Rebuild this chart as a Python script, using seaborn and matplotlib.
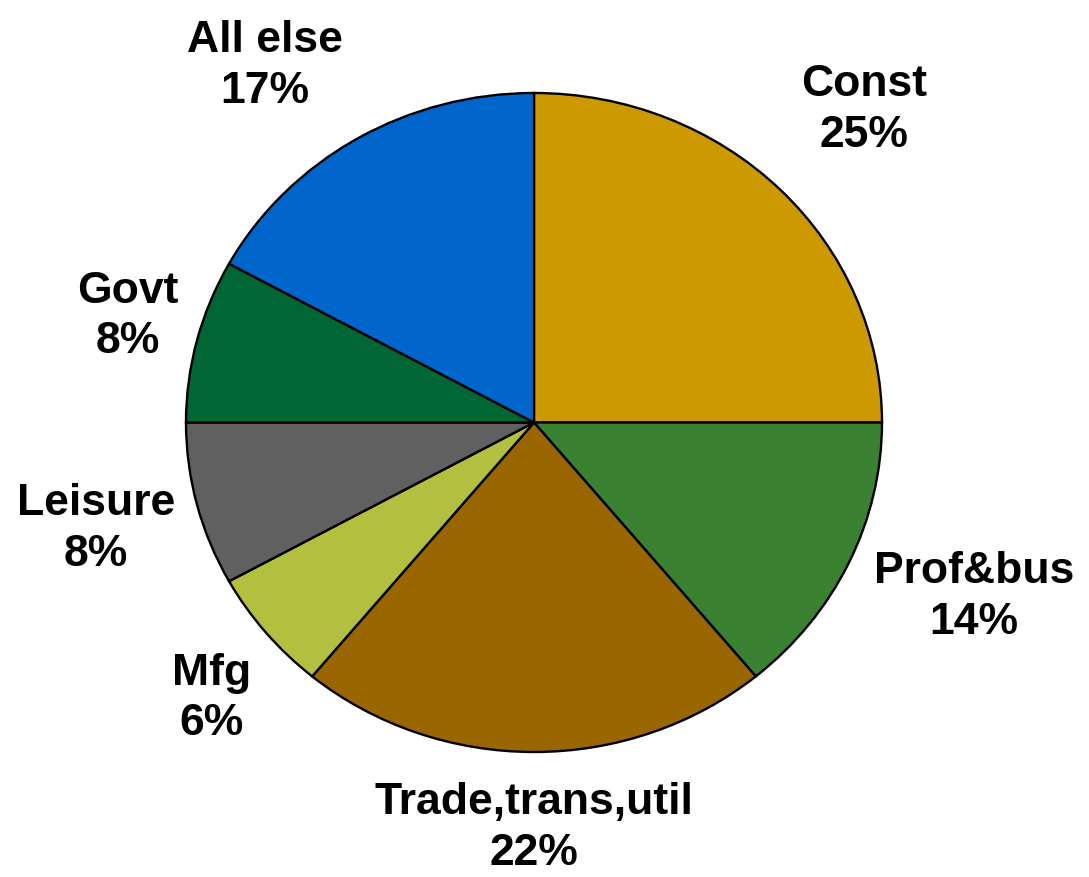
import numpy as np
import matplotlib
matplotlib.use("Agg")
import matplotlib.pyplot as plt
import seaborn as sns

sns.set_theme(style="white")
plt.rcParams['font.family'] = ['Liberation Sans', 'DejaVu Sans']

# slice data, clockwise from 12 o'clock
sectors = ['Const', 'Prof&bus', 'Trade,trans,util', 'Mfg', 'Leisure', 'Govt', 'All else']
shares = [25, 14, 22, 6, 8, 8, 17]
colors = ['#CC9900', '#3A8232', '#996600', '#B2BF3F', '#606060', '#006633', '#0066CC']

# how far out each label sits (in pie radii) and a small angular nudge
label_dist = [1.34, 1.37, 1.23, 1.25, 1.30, 1.21, 1.33]
label_nudge = [0, 2.5, 0, 2.5, 0, -1, 5]

fig = plt.figure(figsize=(10.89, 8.77), dpi=100)
# pie is drawn slightly stretched sideways, like the original
ax = fig.add_axes([186 / 1089, (877 - 752) / 877, 696 / 1089, 659 / 877])

wedges, _ = ax.pie(shares, colors=colors, startangle=90, counterclock=False,
                   wedgeprops=dict(edgecolor='black', linewidth=1.7))
ax.set_aspect('auto')
ax.set_xlim(-1, 1)
ax.set_ylim(-1, 1)
ax.axis('off')

for w, name, val, d, nud in zip(wedges, sectors, shares, label_dist, label_nudge):
    ang = np.deg2rad((w.theta1 + w.theta2) / 2 + nud)
    ax.text(d * np.cos(ang), d * np.sin(ang), f"{name}\n{val}%",
            ha='center', va='center', fontsize=32, fontweight='bold',
            color='black', linespacing=1.3, clip_on=False)

fig.savefig("out.png", dpi=100)
